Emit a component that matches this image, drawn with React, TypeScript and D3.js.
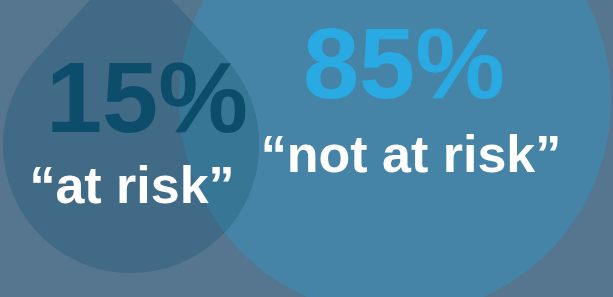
import * as d3 from 'd3';
import React, { useRef, useEffect } from 'react';

// chart data
const categories = ['at risk', 'not at risk'];
const shares = [15, 85];
const shareLabels = ['15%', '85%'];
const captions = ['\u201Cat risk\u201D', '\u201Cnot at risk\u201D'];

const width = 613;
const height = 297;

const App = () => {
  const svgRef = useRef(null);

  useEffect(() => {
    if (!svgRef.current) return;
    const svg = d3.select(svgRef.current);
    svg.selectAll('*').remove();

    // background
    svg.append('rect')
      .attr('width', width)
      .attr('height', height)
      .attr('fill', '#56758f');

    // big circle for "not at risk"
    const big = { cx: 395, cy: 100, r: 216 };
    svg.append('circle')
      .attr('cx', big.cx)
      .attr('cy', big.cy)
      .attr('r', big.r)
      .attr('fill', '#4584a6');

    // drop for "at risk"
    const drop = { cx: 131, cy: 145, r: 128, tipY: -45 };
    const d = drop.cy - drop.tipY;
    const theta = Math.acos(drop.r / d);
    const a0 = -Math.PI / 2 - theta;
    const a1 = -Math.PI / 2 + theta;
    const p = d3.path();
    p.moveTo(drop.cx, drop.tipY);
    p.lineTo(drop.cx + drop.r * Math.cos(a0), drop.cy + drop.r * Math.sin(a0));
    p.arc(drop.cx, drop.cy, drop.r, a0, a1 - 2 * Math.PI, true);
    p.closePath();

    svg.append('clipPath')
      .attr('id', 'bigclip')
      .append('circle')
      .attr('cx', big.cx)
      .attr('cy', big.cy)
      .attr('r', big.r);

    svg.append('path')
      .attr('d', p.toString())
      .attr('fill', '#406a85');
    svg.append('path')
      .attr('d', p.toString())
      .attr('clip-path', 'url(#bigclip)')
      .attr('fill', '#387696');

    // text positions per category
    const x = d3.scaleOrdinal<string, number>().domain(categories).range([147, 404]);
    const pctY = d3.scaleOrdinal<string, number>().domain(categories).range([132, 98]);
    const capX = d3.scaleOrdinal<string, number>().domain(categories).range([132, 411]);
    const capY = d3.scaleOrdinal<string, number>().domain(categories).range([203, 172]);
    const pctColor = ['#0b4d6b', '#29aae2'];

    const g = svg.append('g')
      .style('font-family', '"Liberation Sans", Arial, sans-serif')
      .style('font-weight', 'bold');

    g.selectAll('text.pct')
      .data(categories)
      .enter()
      .append('text')
      .attr('class', 'pct')
      .attr('x', (c) => x(c))
      .attr('y', (c) => pctY(c))
      .attr('text-anchor', 'middle')
      .attr('font-size', 101)
      .attr('fill', (c, i) => pctColor[i])
      .text((c, i) => shareLabels[i] || shares[i] + '%');

    g.selectAll('text.cap')
      .data(categories)
      .enter()
      .append('text')
      .attr('class', 'cap')
      .attr('x', (c) => capX(c))
      .attr('y', (c) => capY(c))
      .attr('text-anchor', 'middle')
      .attr('font-size', 52)
      .attr('fill', '#ffffff')
      .text((c, i) => captions[i]);
  }, [svgRef.current]);

  return (
    <svg
      ref={svgRef}
      width={width}
      height={height}
      style={{ position: 'absolute', left: 0, top: 0, display: 'block' }}
    />
  );
};

export default App;
